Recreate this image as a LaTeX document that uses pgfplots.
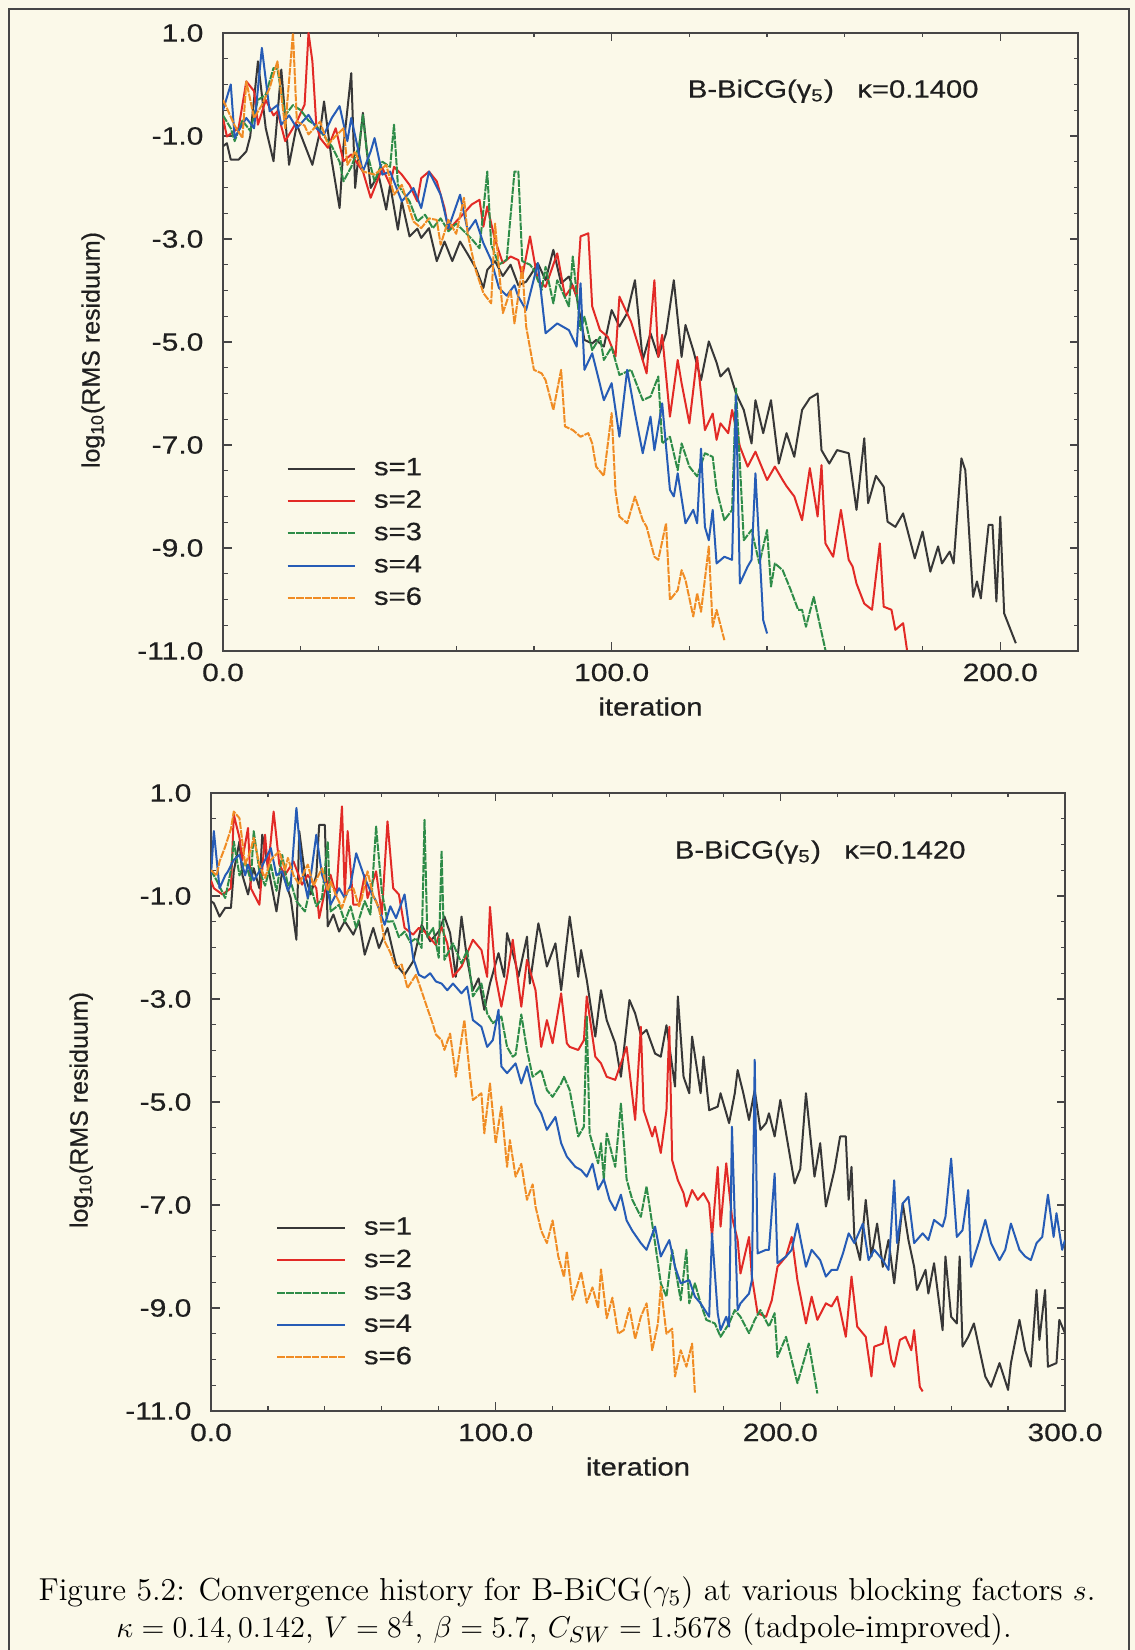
\documentclass[border=0pt]{standalone}
\usepackage{fontspec}
\usepackage{graphicx}
\usepackage{pgfplots}
\pgfplotsset{compat=1.18}
\newfontfamily\plotfont{Liberation Sans}[FakeBold=0.5]
\newcommand\hsc[1]{\scalebox{1.17}[1]{#1}}

\definecolor{paper}{RGB}{251,249,233}
\definecolor{axisc}{RGB}{70,70,70}
\definecolor{c1}{RGB}{55,55,55}
\definecolor{c2}{RGB}{226,42,38}
\definecolor{c3}{RGB}{46,140,72}
\definecolor{c4}{RGB}{38,92,182}
\definecolor{c6}{RGB}{240,140,36}

\pgfplotsset{
  resid/.style={
    scale only axis,
    height=247.2pt,
    ymin=-11, ymax=1,
    ytick={-11,-9,-7,-5,-3,-1,1},
    yticklabels={-11.0,-9.0,-7.0,-5.0,-3.0,-1.0,1.0},
    minor y tick num=3,
    minor x tick num=4,
    tick align=inside,
    major tick length=3.4pt,
    minor tick length=1.8pt,
    axis line style={draw=axisc, line width=0.6pt},
    every tick/.style={draw=axisc, line width=0.5pt},
    tick label style={font=\plotfont\fontsize{10}{12}\selectfont, text=black!88, xscale=1.2},
    yticklabel style={xshift=-3pt},
    xticklabel style={yshift=-1.5pt},
    xlabel={iteration},
    ylabel={log\textsubscript{10}(RMS residuum)},
    label style={font=\plotfont\fontsize{10}{12}\selectfont, text=black!88},
    xlabel style={xscale=1.17, at={(axis description cs:0.5,-0.09)}, anchor=center},
    ylabel style={at={(axis description cs:-0.152,0.487)}, anchor=center},
    legend style={draw=none, fill=none, font=\plotfont\fontsize{10}{12}\selectfont,
      text=black!88, row sep=4.5pt, column sep=7.2pt, inner sep=0pt,
      nodes={inner sep=0pt}},
    legend cell align=left,
    legend image code/.code={\draw[#1] (0pt,0pt) -- (27pt,0pt);},
    every axis plot/.append style={line width=0.8pt, line join=round},
    clip=true,
  },
  s1/.style={c1},
  s2/.style={c2},
  s3/.style={c3, dash pattern=on 3pt off 0.45pt},
  s4/.style={c4},
  s6/.style={c6, dash pattern=on 3pt off 0.45pt},
}

\begin{document}
\begin{tikzpicture}
\useasboundingbox (0,0) rectangle (454pt,660pt);
\fill[paper] (0,0) rectangle (454pt,660pt);
\draw[axisc, line width=0.8pt] (3.6pt,0pt) -- (3.6pt,656.4pt) -- (451.6pt,656.4pt) -- (451.6pt,0pt);

% ---------------- kappa = 0.1400 ----------------
\begin{axis}[resid,
    at={(89.2pt,399.6pt)}, anchor=south west,
    width=342pt,
    xmin=0, xmax=220,
    xtick={0,100,200}, xticklabels={0.0,100.0,200.0},
    legend style={at={(axis description cs:0.0737,0.313)}, anchor=north west},
  ]
\addplot[s1] coordinates {
(0,-1.2)(1,-1.14)(2,-1.46)(4,-1.46)(6,-1.30)(7,-1.01)(9,0.45)(11,-0.85)(13,-1.49)(15,0.29)
(17,-1.56)(19,-0.78)(21,-1.17)(23,-1.56)(25,-0.9)(26,-0.33)(28,-1.49)(30,-2.40)(31,-1.2)(33,0.22)
(34,-2.01)(36,-0.55)(38,-2.01)(40,-1.75)(42,-2.43)(43,-1.95)(45,-2.82)(46,-2.27)(48,-2.95)(50,-2.8)
(51,-2.98)(53,-2.79)(55,-3.43)(57,-3.05)(59,-3.43)(61,-3.05)(63,-3.3)(65,-3.56)(67,-3.95)(68,-3.6)
(70,-3.43)(72,-3.72)(74,-3.5)(76,-3.9)(78,-3.83)(80,-3.6)(81,-3.47)(83,-3.8)(85,-3.21)(87,-3.86)
(89,-3.73)(91,-4.12)(93,-4.96)(95,-5.03)(96,-4.96)(98,-5.09)(100,-4.38)(102,-4.7)(104,-4.44)(106,-3.8)
(108,-5.35)(110,-4.83)(112,-5.29)(114,-4.83)(116,-3.8)(118,-5.29)(119,-4.67)(121,-5.16)(123,-5.74)(125,-4.99)
(127,-5.4)(128,-5.67)(130,-5.51)(132,-6.0)(134,-6.32)(136,-6.97)(137,-6.13)(139,-6.77)(141,-6.13)(143,-7.36)
(145,-6.77)(147,-7.23)(149,-6.32)(151,-6.09)(153,-6.0)(154,-7.1)(156,-7.36)(158,-7.1)(161,-7.16)(163,-8.26)
(165,-6.87)(166,-8.13)(168,-7.6)(170,-7.81)(171,-8.49)(173,-8.59)(175,-8.33)(178,-9.2)(180,-8.68)(182,-9.46)
(184,-8.97)(185,-9.3)(187,-9.07)(188,-9.3)(190,-7.26)(191,-7.49)(193,-9.95)(194,-9.65)(195,-9.98)(197,-8.55)
(198,-8.55)(199,-10.04)(200,-8.39)(201,-10.27)(204,-10.85)
};\addlegendentry{\hsc{s=1}}
\addplot[s2] coordinates {
(0,-0.65)(1,-1.01)(3,-0.9)(4,-0.85)(6,0.06)(8,-0.13)(9,-0.78)(11,-0.30)(13,-0.6)(14,-0.52)
(16,-1.1)(19,-0.72)(21,-0.39)(22,1.0)(23,0.45)(24,-0.78)(25,-1.04)(27,-1.23)(29,-0.85)(31,-1.49)
(33,-1.36)(36,-1.69)(38,-2.2)(41,-1.62)(43,-1.95)(44,-1.6)(46,-1.75)(48,-1.95)(50,-2.27)(51,-1.82)
(53,-1.69)(55,-1.88)(57,-2.4)(58,-2.83)(60,-2.66)(62,-2.5)(64,-2.33)(66,-2.24)(67,-2.76)(68,-2.37)
(70,-3.02)(72,-3.47)(74,-3.34)(76,-3.41)(77,-3.73)(79,-2.95)(81,-3.8)(83,-3.93)(86,-3.28)(88,-4.12)
(90,-3.9)(91,-4.12)(92,-2.95)(94,-2.89)(95,-4.31)(97,-4.77)(99,-4.9)(101,-5.28)(102,-4.12)(105,-4.61)
(107,-5.1)(109,-5.61)(111,-3.8)(112,-5.29)(113,-4.86)(115,-6.45)(117,-5.35)(118,-5.8)(120,-6.58)(122,-5.29)
(124,-6.71)(126,-6.39)(127,-6.9)(128,-6.58)(130,-6.77)(131,-6.32)(133,-7.03)(135,-7.42)(137,-7.13)(140,-7.68)
(142,-7.42)(144,-7.68)(145,-7.8)(147,-8.0)(149,-8.46)(151,-7.45)(153,-8.39)(154,-7.39)(155,-8.91)(157,-9.17)
(159,-8.26)(161,-9.23)(162,-9.36)(163,-9.69)(165,-10.08)(167,-10.2)(169,-8.91)(170,-10.14)(172,-10.2)(173,-10.59)
(175,-10.46)(176,-10.98)
};\addlegendentry{\hsc{s=2}}
\addplot[s3] coordinates {
(0,-0.6)(2,-0.85)(3,-1.1)(5,-0.7)(7,-0.9)(9,-0.3)(11,-0.2)(13,0.32)(14,0.3)(16,-0.6)
(18,-0.4)(20,-0.5)(22,-0.7)(24,-0.8)(26,-1.0)(28,-1.2)(30,-1.5)(31,-1.88)(33,-1.6)(35,-1.2)
(36,-0.59)(37,-1.3)(39,-1.88)(41,-1.5)(43,-1.6)(44,-0.78)(45,-1.95)(48,-2.27)(50,-2.66)(52,-2.53)
(54,-2.79)(56,-2.6)(58,-2.85)(60,-2.7)(62,-2.85)(64,-3.0)(66,-3.18)(68,-1.69)(69,-3.1)(71,-3.5)
(73,-3.4)(75,-1.69)(76,-1.69)(77,-3.43)(79,-3.5)(80,-3.6)(82,-3.99)(83,-3.54)(85,-4.25)(86,-3.8)
(89,-4.31)(90,-3.34)(92,-4.77)(93,-4.51)(95,-5.16)(97,-4.9)(98,-5.35)(100,-5.1)(102,-5.64)(105,-5.54)
(108,-6.13)(110,-6.06)(112,-5.67)(113,-6.97)(115,-6.84)(117,-7.49)(118,-6.97)(120,-7.42)(122,-7.61)(124,-7.16)
(126,-7.23)(127,-7.87)(129,-8.46)(131,-8.26)(132,-5.9)(134,-8.85)(136,-8.65)(138,-9.3)(140,-8.65)(141,-9.75)
(142,-9.3)(144,-9.43)(146,-9.8)(148,-10.2)(149,-10.2)(150,-10.53)(152,-9.95)(155,-10.98)
};\addlegendentry{\hsc{s=3}}
\addplot[s4] coordinates {
(0,-0.5)(2,0.0)(3,-1.04)(4,-0.9)(6,-0.65)(8,-0.85)(10,0.71)(12,-0.52)(14,-0.4)(15,-0.78)
(17,-0.6)(19,-0.85)(22,-0.59)(24,-0.85)(26,-0.97)(28,-0.65)(30,-0.42)(32,-1.1)(33,-0.65)(36,-1.69)
(38,-1.3)(39,-1.04)(41,-1.75)(43,-1.69)(46,-2.27)(49,-2.01)(51,-2.4)(53,-1.69)(56,-2.14)(58,-2.79)
(61,-2.14)(63,-2.85)(65,-2.63)(67,-3.08)(69,-3.41)(71,-3.95)(73,-4.1)(75,-3.9)(76,-4.12)(78,-4.38)
(81,-3.47)(83,-4.83)(86,-4.64)(89,-4.77)(91,-5.09)(92,-3.86)(93,-5.54)(95,-5.22)(98,-6.13)(100,-5.8)
(102,-6.84)(104,-5.54)(106,-6.38)(108,-7.16)(110,-6.45)(111,-7.1)(113,-6.19)(115,-7.87)(116,-8.0)(117,-7.55)
(119,-8.52)(121,-8.26)(122,-8.52)(123,-7.07)(124,-8.59)(125,-8.85)(126,-8.26)(127,-9.3)(129,-9.17)(131,-9.23)
(132,-6.03)(133,-9.69)(135,-9.36)(136,-9.23)(137,-7.55)(139,-10.4)(140,-10.66)
};\addlegendentry{\hsc{s=4}}
\addplot[s6] coordinates {
(0,-0.3)(1,-0.46)(3,-0.8)(5,-1.04)(6,0.06)(8,-0.65)(10,-0.4)(12,-0.07)(14,0.45)(16,-0.85)
(18,1.0)(19,-0.72)(21,-0.8)(22,-0.97)(25,-0.72)(27,-1.17)(29,-1.0)(31,-0.85)(32,-1.56)(34,-1.3)
(36,-1.69)(39,-1.75)(42,-1.56)(44,-2.14)(46,-1.95)(49,-2.66)(51,-2.79)(53,-2.6)(55,-2.63)(56,-3.11)
(58,-2.63)(60,-2.9)(62,-2.2)(63,-2.92)(65,-3.6)(67,-4.05)(69,-4.25)(70,-2.7)(72,-4.44)(74,-3.99)
(75,-4.64)(77,-3.54)(78,-4.7)(80,-5.54)(82,-5.61)(83,-5.74)(85,-6.32)(87,-5.54)(88,-6.64)(90,-6.71)
(92,-6.84)(94,-6.77)(95,-6.97)(96,-7.42)(98,-7.6)(100,-6.38)(101,-7.9)(102,-8.39)(104,-8.52)(106,-8.0)
(108,-8.46)(109,-8.59)(111,-9.17)(112,-9.23)(114,-8.52)(115,-10.01)(117,-9.82)(118,-9.43)(119,-9.62)(121,-10.33)
(122,-9.88)(123,-10.24)(125,-8.97)(126,-10.53)(127,-10.2)(129,-10.79)
};\addlegendentry{\hsc{s=6}}
\node[font=\plotfont\fontsize{10}{12}\selectfont, text=black!88, xscale=1.17]
  at (axis cs:157,-0.13) {B-BiCG(γ\textsubscript{5})\hspace{8pt}κ=0.1400};
\end{axis}

% ---------------- kappa = 0.1420 ----------------
\begin{axis}[resid,
    at={(84.4pt,95.6pt)}, anchor=south west,
    width=341.6pt,
    xmin=0, xmax=300,
    xtick={0,100,200,300}, xticklabels={0.0,100.0,200.0,300.0},
    legend style={at={(axis description cs:0.0761,0.314)}, anchor=north west},
  ]
\addplot[s1] coordinates {
(0,-1.1)(1,-1.14)(3,-1.4)(5,-1.23)(7,-1.23)(8,-0.52)(10,0.06)(11,-0.59)(13,-0.97)(15,-0.46)
(17,-0.85)(18,0.19)(21,-0.72)(23,-1.3)(25,-0.52)(28,-1.04)(30,-1.85)(31,0.26)(33,-0.59)(35,-0.97)
(37,-0.6)(38,0.38)(40,0.38)(41,-1.59)(43,-1.36)(45,-1.69)(47,-1.49)(50,-1.75)(52,-1.49)(54,-2.14)
(57,-1.62)(59,-2.01)(62,-1.62)(65,-2.33)(68,-2.53)(71,-2.27)(74,-1.56)(77,-1.88)(80,-1.69)(82,-1.4)
(84,-1.72)(86,-2.57)(88,-1.4)(90,-2.24)(92,-2.83)(94,-2.6)(96,-3.21)(98,-2.7)(101,-2.11)(103,-2.57)
(104,-1.72)(107,-2.31)(108,-2.57)(111,-1.79)(112,-2.7)(115,-1.53)(116,-1.79)(118,-2.37)(121,-1.92)(123,-2.83)
(126,-1.4)(129,-2.57)(130,-2.05)(132,-2.63)(135,-3.73)(137,-2.83)(139,-3.41)(142,-3.86)(144,-4.51)(147,-3.02)
(149,-3.28)(151,-3.7)(153,-3.6)(156,-4.06)(158,-4.12)(160,-3.51)(163,-4.7)(164,-2.95)(166,-4.51)(168,-4.83)
(169,-3.73)(172,-4.83)(173,-4.12)(175,-5.16)(178,-5.09)(179,-4.83)(182,-5.41)(184,-4.83)(185,-4.38)(187,-4.83)
(189,-5.35)(191,-4.77)(193,-5.54)(195,-5.41)(196,-5.22)(198,-5.67)(200,-4.96)(203,-5.93)(205,-6.58)(207,-6.3)
(209,-4.83)(212,-6.45)(214,-5.8)(216,-7.03)(219,-6.32)(221,-5.67)(223,-5.67)(224,-6.9)(225,-6.26)(226,-7.62)
(228,-8.07)(230,-6.9)(232,-8.0)(234,-7.36)(236,-8.2)(238,-7.68)(240,-8.52)(243,-6.97)(245,-7.68)(247,-8.2)
(248,-8.65)(251,-8.26)(252,-8.72)(254,-8.13)(257,-9.43)(258,-8.0)(260,-9.17)(262,-9.3)(263,-8.0)(264,-9.75)
(266,-9.56)(268,-9.3)(270,-9.82)(272,-10.33)(274,-10.53)(277,-10.07)(280,-10.59)(281,-10.07)(284,-9.23)(286,-9.82)
(288,-10.14)(290,-8.65)(291,-9.62)(293,-8.65)(294,-10.14)(297,-10.07)(298,-9.23)(300,-9.49)
};\addlegendentry{\hsc{s=1}}
\addplot[s2] coordinates {
(0,-0.7)(1,-0.85)(4,-0.97)(7,-0.85)(8,0.58)(10,0.13)(11,-0.3)(13,0.32)(14,-0.85)(17,-1.17)
(19,0.19)(20,-0.5)(22,0.64)(24,-0.39)(26,-0.59)(29,-0.33)(32,-0.78)(34,-0.59)(37,-0.85)(38,-1.43)
(40,-0.91)(42,-0.59)(44,-1.0)(46,0.74)(47,-0.97)(48,0.26)(50,-1.17)(52,-1.17)(54,-0.59)(55,-1.04)
(58,-0.52)(60,-1.36)(62,0.45)(64,-0.85)(66,-0.97)(68,-1.62)(71,-1.75)(73,-1.62)(75,-1.69)(79,-1.95)
(81,-1.6)(83,-1.92)(85,-2.57)(88,-2.37)(90,-2.11)(92,-1.85)(95,-2.05)(97,-2.57)(98,-1.21)(100,-2.57)
(102,-3.15)(104,-2.57)(106,-1.85)(109,-3.15)(111,-2.24)(114,-2.83)(116,-3.93)(118,-3.41)(120,-3.86)(123,-2.89)
(125,-3.86)(126,-3.93)(129,-3.99)(131,-3.8)(132,-2.95)(135,-4.12)(137,-4.25)(139,-4.51)(142,-4.57)(144,-4.25)
(146,-3.93)(149,-5.35)(151,-3.54)(152,-5.16)(155,-5.67)(156,-5.48)(158,-5.99)(160,-5.16)(161,-3.54)(162,-6.13)
(164,-6.52)(166,-6.77)(167,-7.03)(169,-6.71)(171,-6.9)(173,-6.77)(175,-6.97)(176,-7.62)(178,-6.26)(179,-7.42)
(181,-6.19)(183,-7.23)(185,-7.68)(186,-8.33)(189,-7.62)(190,-8.39)(192,-9.1)(195,-9.17)(197,-8.85)(199,-8.2)
(202,-8.0)(204,-7.62)(206,-8.46)(209,-9.3)(211,-8.78)(213,-9.23)(216,-8.91)(218,-8.97)(220,-8.78)(223,-9.56)
(225,-8.39)(227,-9.36)(230,-9.56)(232,-10.33)(233,-9.75)(236,-9.69)(237,-9.36)(239,-10.01)(240,-10.14)(242,-9.62)
(244,-9.56)(246,-9.82)(247,-9.43)(249,-10.53)(250,-10.62)
};\addlegendentry{\hsc{s=2}}
\addplot[s3] coordinates {
(0,-0.5)(2,-0.7)(5,-1.04)(7,-0.5)(8,0.06)(10,-0.6)(12,-0.33)(14,-0.7)(15,0.26)(17,-0.52)
(19,-0.8)(21,-0.39)(23,-0.9)(25,-0.2)(27,-0.8)(28,-0.72)(30,-1.1)(33,-1.3)(35,-0.8)(37,-1.2)
(39,-1.04)(41,0.06)(42,-1.3)(45,-1.17)(47,-1.5)(49,-1.2)(51,-1.62)(54,-1.1)(56,-1.36)(58,0.35)
(60,-0.91)(62,-1.5)(64,-1.49)(66,-1.8)(68,-1.69)(70,-1.9)(72,-1.82)(74,-2.01)(75,0.48)(76,-1.8)
(78,-1.62)(80,-2.2)(81,-0.12)(82,-2.24)(85,-1.92)(88,-2.31)(90,-2.05)(92,-2.95)(95,-2.7)(97,-3.28)
(99,-3.47)(102,-3.34)(104,-3.93)(106,-4.12)(107,-4.08)(109,-3.3)(111,-3.99)(113,-4.51)(116,-4.38)(118,-4.77)
(120,-4.9)(123,-4.64)(124,-4.51)(126,-4.77)(129,-5.67)(131,-5.48)(132,-3.34)(133,-5.61)(136,-6.19)(137,-5.8)
(138,-6.51)(139,-5.61)(142,-6.26)(144,-5.03)(146,-6.5)(148,-6.9)(151,-7.23)(153,-6.64)(156,-7.74)(158,-8.52)
(160,-8.78)(162,-7.87)(165,-8.85)(167,-7.87)(168,-8.91)(170,-8.52)(172,-8.91)(174,-9.23)(177,-9.3)(179,-9.56)
(182,-9.3)(184,-9.04)(186,-9.17)(189,-9.49)(191,-9.23)(193,-9.04)(196,-9.36)(198,-9.1)(199,-9.95)(202,-9.56)
(204,-10.01)(206,-10.46)(210,-9.69)(213,-10.66)
};\addlegendentry{\hsc{s=3}}
\addplot[s4] coordinates {
(0,-0.6)(1,0.26)(3,-0.85)(5,-0.6)(6,-0.52)(8,-0.3)(10,-0.2)(12,-0.6)(13,-0.39)(15,-0.7)
(17,-0.52)(19,-0.3)(21,-0.07)(23,-0.6)(25,-0.52)(27,-0.9)(28,-0.78)(30,0.71)(32,-0.52)(34,-1.04)
(37,0.19)(39,-0.59)(41,-0.9)(42,-1.17)(45,-0.85)(47,-1.04)(49,-0.8)(51,-0.17)(54,-0.65)(56,-0.9)
(58,-1.1)(61,-1.56)(63,-1.2)(65,-1.43)(68,-0.97)(71,-2.2)(73,-2.53)(75,-2.59)(77,-2.5)(79,-2.66)
(81,-2.7)(83,-2.83)(85,-2.7)(88,-2.89)(90,-2.76)(92,-3.41)(95,-3.54)(97,-3.93)(99,-3.8)(101,-3.21)
(102,-4.31)(104,-4.44)(107,-4.25)(109,-4.64)(111,-4.31)(114,-5.03)(116,-5.22)(118,-5.54)(121,-5.29)(123,-5.8)
(125,-6.06)(128,-6.26)(130,-6.32)(132,-6.45)(134,-6.2)(136,-6.7)(138,-6.5)(140,-6.9)(142,-7.1)(144,-6.8)
(146,-7.3)(148,-7.5)(151,-7.74)(153,-7.87)(156,-7.42)(158,-8.0)(161,-7.68)(163,-8.2)(165,-8.52)(168,-8.46)
(170,-8.78)(172,-8.91)(175,-9.17)(176,-7.55)(178,-9.1)(179,-9.43)(181,-9.17)(182,-9.36)(183,-5.48)(185,-9.04)
(186,-8.91)(189,-8.72)(190,-8.46)(191,-4.18)(192,-7.94)(195,-7.87)(196,-7.87)(198,-6.39)(199,-8.13)(202,-8.0)
(204,-7.87)(206,-7.36)(209,-8.2)(211,-7.87)(214,-8.07)(216,-8.39)(218,-8.26)(220,-8.26)(222,-7.94)(224,-7.55)
(226,-7.74)(229,-7.36)(231,-8.07)(233,-7.87)(236,-8.07)(238,-8.26)(240,-6.52)(241,-7.74)(243,-6.97)(245,-6.84)
(247,-7.74)(250,-7.55)(252,-7.68)(254,-7.29)(257,-7.42)(258,-7.23)(260,-6.1)(262,-7.62)(264,-7.49)(266,-6.71)
(267,-8.2)(270,-7.68)(272,-7.29)(274,-7.74)(277,-8.07)(279,-7.87)(281,-7.36)(284,-7.87)(286,-8.0)(288,-8.07)
(290,-7.74)(292,-7.62)(294,-6.8)(296,-7.62)(297,-7.16)(299,-7.87)(300,-7.68)
};\addlegendentry{\hsc{s=4}}
\addplot[s6] coordinates {
(0,-0.5)(2,-0.6)(3,-0.33)(5,-0.04)(7,0.3)(8,0.64)(10,0.51)(12,-0.39)(14,-0.1)(15,0.13)
(17,-0.4)(19,-0.65)(21,-0.3)(24,-0.13)(26,-0.5)(27,-0.26)(29,-0.6)(31,-0.78)(33,-0.5)(34,-0.39)
(36,-0.8)(39,-0.46)(41,-0.9)(42,-0.72)(44,-1.0)(46,-1.23)(48,-0.9)(50,-0.85)(52,-1.2)(53,-1.04)
(55,-0.52)(57,-1.0)(59,-1.23)(61,-1.88)(63,-2.1)(65,-2.4)(67,-2.33)(69,-2.79)(72,-2.53)(74,-2.85)
(76,-3.18)(78,-3.5)(79,-3.69)(81,-3.8)(82,-3.99)(84,-3.67)(86,-4.51)(89,-3.41)(91,-4.51)(92,-4.96)
(95,-4.83)(96,-5.61)(98,-4.64)(100,-5.8)(102,-5.09)(104,-6.26)(105,-5.74)(107,-6.45)(109,-6.2)(111,-6.9)
(113,-6.6)(114,-7.03)(116,-7.5)(118,-7.74)(120,-7.3)(122,-8.0)(124,-8.4)(125,-7.9)(127,-8.84)(129,-8.5)
(130,-8.3)(132,-8.9)(134,-8.6)(136,-9.0)(137,-8.25)(139,-9.2)(141,-8.8)(143,-9.5)(145,-9.43)(147,-9.0)
(149,-9.6)(151,-9.17)(153,-8.91)(155,-9.82)(157,-9.3)(158,-8.58)(160,-9.5)(162,-9.4)(163,-10.33)(165,-9.82)
(167,-10.14)(169,-9.69)(170,-10.66)
};\addlegendentry{\hsc{s=6}}
\node[font=\plotfont\fontsize{10}{12}\selectfont, text=black!88, xscale=1.17]
  at (axis cs:214,-0.147) {B-BiCG(γ\textsubscript{5})\hspace{8pt}κ=0.1420};
\end{axis}

% caption
\node[anchor=base, font=\fontsize{12.7}{15}\selectfont] at (226.8pt,19.6pt)
  {Figure 5.2: Convergence history for B-BiCG($\gamma_5$) at various blocking factors $s$.};
\node[anchor=base, font=\fontsize{12.7}{15}\selectfont] at (225.6pt,5.0pt)
  {$\kappa = 0.14, 0.142$, $V = 8^4$, $\beta = 5.7$, $C_{SW} = 1.5678$ (tadpole-improved).};
\end{tikzpicture}
\end{document}
